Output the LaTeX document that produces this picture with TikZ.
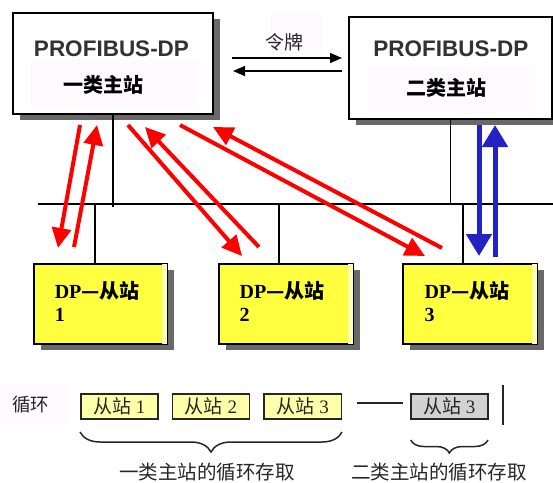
\documentclass[tikz,border=0pt]{standalone}
\usepackage{fontspec}
\setmainfont{Liberation Serif}
\newfontfamily\cjk{Noto Sans CJK SC}
\newfontfamily\arial{Liberation Sans}
\usetikzlibrary{arrows.meta,shadows,decorations.pathreplacing,calc}
\definecolor{myred}{RGB}{255,0,0}
\definecolor{myblue}{RGB}{35,35,195}
\definecolor{slaveyellow}{RGB}{255,255,64}
\definecolor{paleyellow}{RGB}{255,255,180}
\definecolor{cellyellow}{RGB}{255,255,170}
\definecolor{cellgray}{RGB}{210,210,210}
\definecolor{faintpink}{RGB}{254,250,254}
\definecolor{shadowgray}{RGB}{105,105,105}
\definecolor{textgray}{RGB}{50,50,50}
\begin{document}
\begin{tikzpicture}[x=1pt,y=-1pt,
  master/.style={draw=black, line width=2pt, fill=white, inner sep=0pt,
    drop shadow={shadow xshift=7pt, shadow yshift=-6pt, fill=shadowgray, opacity=1}},
  slave/.style={draw=black, line width=1.6pt, fill=slaveyellow, inner sep=0pt,
    minimum width=133pt, minimum height=80pt,
    drop shadow={shadow xshift=7pt, shadow yshift=-6pt, fill=shadowgray, opacity=1}},
  cell/.style={draw=black!85, line width=1.6pt, inner sep=0pt,
    minimum width=77pt, minimum height=25pt, font=\fontsize{19}{19}\selectfont, text=black!85},
  protext/.style={inner sep=0pt, text=textgray, font=\arial\bfseries\fontsize{22.5}{24}\selectfont},
  mastername/.style={inner sep=0pt, font=\cjk\bfseries\fontsize{20}{20}\selectfont},
  slavetext/.style={inner sep=0pt, anchor=base west, font=\bfseries\fontsize{20}{20}\selectfont},
  plaincjk/.style={inner sep=0pt, font=\cjk\fontsize{19}{19}\selectfont, text=black!85},
  bgpink/.style={fill=faintpink},
  wire/.style={draw=black, line width=1.3pt},
  redarrow/.style={draw=myred, line width=4pt, -{Triangle[length=20pt,width=19pt]}},
  bluearrow/.style={draw=myblue, line width=5pt, -{Triangle[length=22pt,width=25pt]}},
  tokenarrow/.style={draw=black, line width=1.4pt, -{Triangle[length=12pt,width=10pt]}},
  bracestyle/.style={draw=black!85, line width=1.5pt, decorate},
]
\useasboundingbox (0,0) rectangle (553,482);

% bus
\coordinate (busL) at (38,204);
\coordinate (busR) at (553,204);
\draw[wire] (busL) -- (busR);

% masters
\node[master, minimum width=200pt, minimum height=101pt] (m1) at (113,63.5) {};
\node[master, minimum width=203pt, minimum height=102pt] (m2) at (450.5,68) {};
\fill[bgpink] (30,60) rectangle (198,107);
\fill[bgpink] (367,67) rectangle (535,113);
\node[protext] (m1p) at (111.5,48.3) {PROFIBUS-DP};
\node[protext] (m2p) at (450.8,48.3) {PROFIBUS-DP};
\node[mastername] (m1n) at (103,84.5) {一类主站};
\node[mastername] (m2n) at (446,87.5) {二类主站};

% token
\fill[bgpink] (270,13) rectangle (323,55);
\node[plaincjk] (tok) at (284,42) {令牌};
\coordinate (t1a) at (232,58);
\coordinate (t1b) at (342,58);
\coordinate (t2a) at (342,71);
\coordinate (t2b) at (233,71);
\draw[tokenarrow] (t1a) -- (t1b);
\draw[tokenarrow] (t2a) -- (t2b);

% drops from masters
\draw[wire] (m1.south) -- ($(m1.south |- busL)+(0,3)$);
\draw[wire] (m2.south) -- (m2.south |- busL);

% slaves
\node[slave] (s1) at (100.5,304) {};
\node[slave, minimum width=134pt] (s2) at (286,304) {};
\node[slave, minimum width=134pt] (s3) at (470,304) {};
\foreach \s in {s1,s2,s3}{
  \fill[paleyellow] ([xshift=-5.5pt,yshift=-0.9pt]\s.north east) rectangle ([xshift=-0.9pt,yshift=0.9pt]\s.south east);
}
\coordinate (d1) at ([xshift=-5.5pt]s1.north);
\coordinate (d2) at ([xshift=-7pt]s2.north);
\coordinate (d3) at ([xshift=-7pt]s3.north);
\draw[wire] (d1) -- (d1 |- busL);
\draw[wire] (d2) -- (d2 |- busL);
\draw[wire] (d3) -- (d3 |- busL);

\node[slavetext] (s1a) at (54.6,298.3) {DP{\cjk —从站}};
\node[slavetext] (s1b) at (54.6,321.7) {1};
\node[slavetext] (s2a) at (239.4,298.3) {DP{\cjk —从站}};
\node[slavetext] (s2b) at (239.4,321.7) {2};
\node[slavetext] (s3a) at (424.3,298.3) {DP{\cjk —从站}};
\node[slavetext] (s3b) at (424.3,321.7) {3};

% red arrows
\coordinate (a1s) at (80,125);   \coordinate (a1e) at (58,248);
\coordinate (a2s) at (74,247);   \coordinate (a2e) at (97,125);
\coordinate (b1s) at (128,125);  \coordinate (b1e) at (242,256);
\coordinate (b2s) at (259,247);  \coordinate (b2e) at (145,127);
\coordinate (c1s) at (180,125);  \coordinate (c1e) at (425,256);
\coordinate (c2s) at (442,248);  \coordinate (c2e) at (213,127);
\draw[redarrow] (a1s) -- (a1e);
\draw[redarrow] (a2s) -- (a2e);
\draw[redarrow] (b1s) -- (b1e);
\draw[redarrow] (b2s) -- (b2e);
\draw[redarrow] (c1s) -- (c1e);
\draw[redarrow] (c2s) -- (c2e);

% blue arrows
\coordinate (e1s) at (479,125);  \coordinate (e1e) at (479,256);
\coordinate (e2s) at (495,257);  \coordinate (e2e) at (495,125);
\draw[bluearrow] (e1s) -- (e1e);
\draw[bluearrow] (e2s) -- (e2e);

% cycle row
\fill[bgpink] (0,383) rectangle (68,425);
\node[plaincjk, font=\cjk\fontsize{18.5}{18.5}\selectfont] (cyc) at (30.8,405) {循环};
\node[cell, fill=cellyellow] (c1) at (119.2,406.5) {{\cjk 从站} 1};
\node[cell, fill=cellyellow] (c2) at (210.9,406.5) {{\cjk 从站} 2};
\node[cell, fill=cellyellow, minimum width=77.5pt] (c3) at (302.8,406.5) {{\cjk 从站} 3};
\node[cell, fill=cellgray] (c4) at (449.2,406.5) {{\cjk 从站} 3};
\coordinate (gapA) at (356.7,403);
\coordinate (gapB) at (402.7,403);
\draw[draw=black!85, line width=1.5pt] (gapA) -- (gapB);
\coordinate (barT) at (503,385);
\coordinate (barB) at (503,425);
\draw[draw=black!85, line width=1.8pt] (barT) -- (barB);

% braces
\coordinate (br1a) at (80,432);
\coordinate (br1b) at (342,432);
\coordinate (br2a) at (410.7,440);
\coordinate (br2b) at (488,440);
\draw[bracestyle, decoration={brace,mirror,amplitude=20pt}] (br1a) -- (br1b);
\draw[bracestyle, decoration={brace,mirror,amplitude=13pt}] (br2a) -- (br2b);
\node[plaincjk, font=\cjk\fontsize{19.5}{19.5}\selectfont] (lab1) at (207,472) {一类主站的循环存取};
\node[plaincjk, font=\cjk\fontsize{19.5}{19.5}\selectfont] (lab2) at (439,472) {二类主站的循环存取};
\end{tikzpicture}
\end{document}
